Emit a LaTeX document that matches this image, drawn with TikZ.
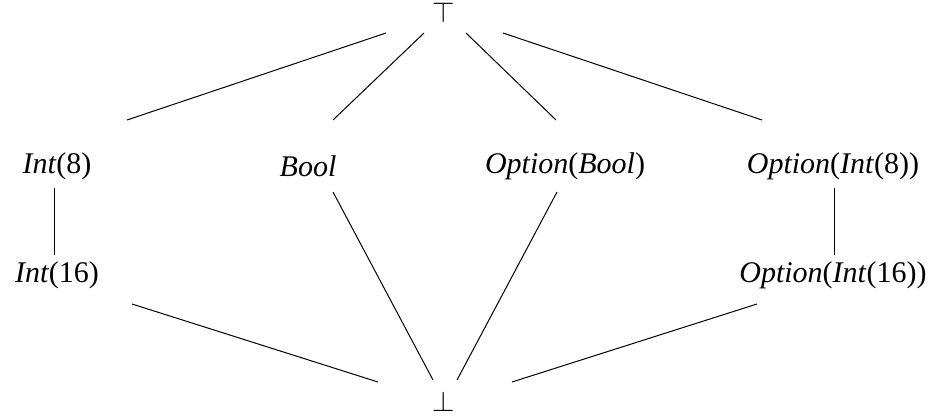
\documentclass[tikz,border=0pt]{standalone}
\usepackage{fontspec}
\setmainfont{Liberation Serif}
\begin{document}
\begin{tikzpicture}[x=0.5pt,y=-0.5pt,
  lat/.style={inner sep=0pt,font=\fontsize{15}{18}\selectfont},
  extreme/.style={inner sep=0pt,anchor=south,font=\fontsize{13.5}{16}\selectfont},
  edge/.style={line width=0.5pt}]
\useasboundingbox (0,0) rectangle (935,416);
% lattice elements
\node[extreme] (top) at (444,23) {$\top$};
\node[lat] (i8) at (57,166) {\textit{Int}(8)};
\node[lat] (bool) at (308,166) {\textit{Bool}};
\node[lat] (ob) at (565,166) {\textit{Option}(\textit{Bool})};
\node[lat] (oi8) at (833,166) {\textit{Option}(\textit{Int}(8))};
\node[lat] (i16) at (57,275) {\textit{Int}(16)};
\node[lat] (oi16) at (833,275) {\textit{Option}(\textit{Int}(16))};
\node[extreme] (bot) at (444,412) {$\bot$};
% covering relations, each line kept clear of its two labels
\draw[edge] ([shift={(-58,10)}]top.south) -- ([shift={(70,-46)}]i8.center);
\draw[edge] ([shift={(-20,10)}]top.south) -- ([shift={(25,-46)}]bool.center);
\draw[edge] ([shift={(22,10)}]top.south) -- ([shift={(-9,-46)}]ob.center);
\draw[edge] ([shift={(59,10)}]top.south) -- ([shift={(-71,-46)}]oi8.center);
\draw[edge] ([shift={(-3,22)}]i8.center) -- ([shift={(-3,-20)}]i16.center);
\draw[edge] ([shift={(1,22)}]oi8.center) -- ([shift={(1,-20)}]oi16.center);
\draw[edge] ([shift={(75,29)}]i16.center) -- ([shift={(-66,-30)}]bot.south);
\draw[edge] ([shift={(25,26)}]bool.center) -- ([shift={(-11,-32)}]bot.south);
\draw[edge] ([shift={(-8,26)}]ob.center) -- ([shift={(13,-32)}]bot.south);
\draw[edge] ([shift={(-76,29)}]oi16.center) -- ([shift={(68,-30)}]bot.south);
\end{tikzpicture}
\end{document}
